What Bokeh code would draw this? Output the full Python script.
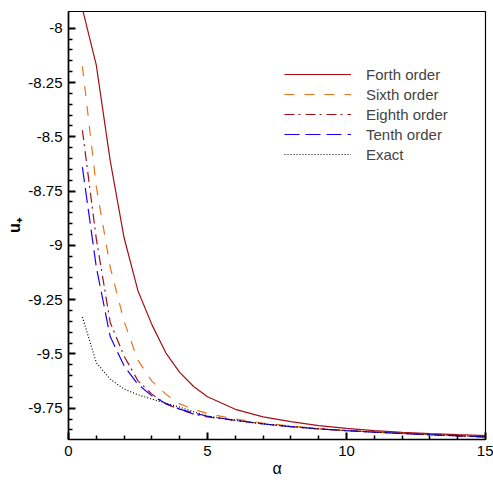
from bokeh.plotting import figure
from bokeh.models import Range1d, FixedTicker, Legend, LegendItem
from bokeh.embed import file_html
from bokeh.resources import INLINE

alpha = [0.5, 1.0, 1.5, 2.0, 2.5, 3.0, 3.5, 4.0, 4.5, 5.0,
         6, 7, 8, 9, 10, 11, 12, 13, 14, 15]

forth = [-7.91, -8.17, -8.61, -8.965, -9.21, -9.365, -9.495, -9.585, -9.65, -9.697,
         -9.755, -9.79, -9.812, -9.83, -9.843, -9.853, -9.861, -9.867, -9.872, -9.876]
sixth = [-8.175, -8.73, -9.10, -9.35, -9.53, -9.625, -9.685, -9.73, -9.755, -9.775,
         -9.80, -9.818, -9.832, -9.844, -9.853, -9.860, -9.866, -9.872, -9.877, -9.882]
eighth = [-8.47, -8.97, -9.355, -9.51, -9.624, -9.685, -9.73, -9.755, -9.777, -9.79,
          -9.806, -9.822, -9.835, -9.845, -9.853, -9.860, -9.866, -9.872, -9.877, -9.882]
tenth = [-8.64, -9.10, -9.42, -9.555, -9.64, -9.693, -9.728, -9.754, -9.772, -9.787,
         -9.806, -9.822, -9.835, -9.845, -9.853, -9.860, -9.866, -9.872, -9.877, -9.882]
exact = [-9.33, -9.54, -9.616, -9.662, -9.688, -9.708, -9.727, -9.745, -9.766, -9.786,
         -9.806, -9.822, -9.835, -9.845, -9.853, -9.860, -9.866, -9.872, -9.877, -9.882]

series_names = ["Forth order", "Sixth order", "Eighth order", "Tenth order", "Exact"]

x_ticks = [0, 5, 10, 15]
x_minor = [t for t in range(0, 16) if t not in x_ticks]
y_ticks = [-9.75, -9.5, -9.25, -9.0, -8.75, -8.5, -8.25, -8.0]
y_tick_labels = ["-9.75", "-9.5", "-9.25", "-9", "-8.75", "-8.5", "-8.25", "-8"]
y_minor = [round(-9.85 + 0.05 * i, 2) for i in range(0, 38)]
y_minor = [t for t in y_minor if t not in y_ticks]

X0, X1 = 0, 15
Y0, Y1 = -9.894, -7.923

W, H = 493, 480
BL, BR, BT, BB = 68, 8, 11, 41

FONT = "Liberation Sans"

p = figure(width=W, height=H, output_backend="svg", toolbar_location=None,
           x_range=Range1d(X0, X1), y_range=Range1d(Y0, Y1),
           min_border_left=BL, min_border_right=BR, min_border_top=BT, min_border_bottom=BB)
p.xgrid.visible = False
p.ygrid.visible = False
p.outline_line_color = "black"
p.outline_line_width = 1.2
p.background_fill_color = "white"
p.border_fill_color = "white"

styles = [
    dict(color="#a50f15", line_dash="solid"),
    dict(color="#e8731c", line_dash="10 10"),
    dict(color="#a50f15", line_dash="10 4 2 5"),
    dict(color="#1a00ff", line_dash="15 6"),
    dict(color="black", line_dash="1 2"),
]
data = [forth, sixth, eighth, tenth, exact]
items = []
for name, ys, st in zip(series_names, data, styles):
    r = p.line(alpha, ys, line_color=st["color"], line_dash=st["line_dash"], line_width=1.2)
    items.append(LegendItem(label=name, renderers=[r]))

legend = Legend(items=items, location=(216, 275), padding=0, margin=0, spacing=0,
                glyph_width=67, glyph_height=20, label_height=20, label_standoff=15,
                border_line_alpha=0, background_fill_alpha=0,
                label_text_font=FONT, label_text_font_size="15px")
p.add_layout(legend)

for ax in (p.xaxis[0], p.yaxis[0]):
    ax.major_tick_in = 7
    ax.major_tick_out = 0
    ax.minor_tick_in = 4
    ax.minor_tick_out = 0
    ax.major_tick_line_color = "black"
    ax.minor_tick_line_color = "black"
    ax.major_tick_line_width = 2
    ax.minor_tick_line_width = 1.5
    ax.axis_line_width = 1.6
    ax.major_label_text_font = FONT
    ax.major_label_text_font_size = "15px"
    ax.major_label_text_color = "black"
    ax.axis_label_text_font = FONT
    ax.axis_label_text_color = "black"

p.xaxis.ticker = FixedTicker(ticks=x_ticks, minor_ticks=x_minor)
p.yaxis.ticker = FixedTicker(ticks=y_ticks, minor_ticks=y_minor)
p.yaxis.major_label_overrides = {t: l for t, l in zip(y_ticks, y_tick_labels)}
p.xaxis.major_label_overrides = {t: str(t) for t in x_ticks}

p.xaxis.axis_label = "α"
p.xaxis.axis_label_text_font_size = "16px"
p.xaxis.axis_label_text_font_style = "normal"
p.xaxis.major_label_standoff = 6
p.xaxis.axis_label_standoff = 1

p.yaxis.axis_label = "u₊"
p.yaxis.axis_label_text_font_size = "16px"
p.yaxis.axis_label_text_font_style = "bold"
p.yaxis.major_label_standoff = 6
p.yaxis.axis_label_standoff = 2

open("out.html", "w").write(file_html(p, INLINE))
